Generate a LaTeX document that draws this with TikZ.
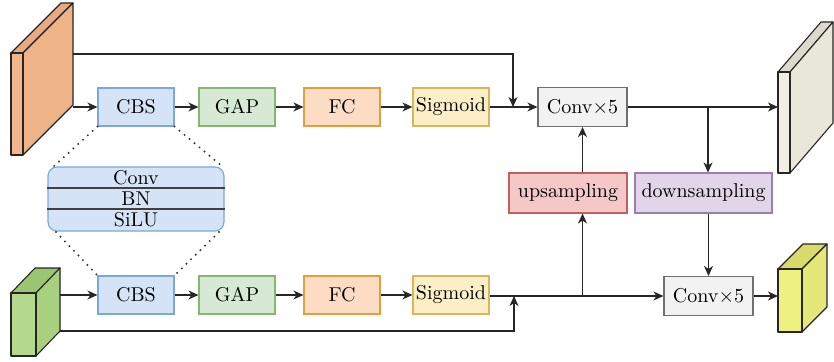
\documentclass[tikz,border=0pt]{standalone}
\usepackage{graphicx}
\usetikzlibrary{arrows.meta}
\newcommand{\lbl}[1]{\scalebox{2.0}{\fontsize{10}{12}\selectfont #1}}
\definecolor{cbsfill}{HTML}{D4E3F5}\definecolor{cbsdraw}{HTML}{7BA7DB}
\definecolor{gapfill}{HTML}{D6E9D4}\definecolor{gapdraw}{HTML}{86B76C}
\definecolor{fcfill}{HTML}{FCDCC4}\definecolor{fcdraw}{HTML}{E0A13A}
\definecolor{sigfill}{HTML}{FCEFC8}\definecolor{sigdraw}{HTML}{D9B65A}
\definecolor{convfill}{HTML}{F2F2F2}\definecolor{convdraw}{HTML}{707070}
\definecolor{upfill}{HTML}{F5C8C8}\definecolor{updraw}{HTML}{C0605C}
\definecolor{downfill}{HTML}{E2D5EA}\definecolor{downdraw}{HTML}{9D7DB3}
\definecolor{orfront}{HTML}{F2B58C}\definecolor{ortop}{HTML}{EAA97E}\definecolor{orside}{HTML}{EFB388}
\definecolor{grfront}{HTML}{B4D88C}\definecolor{grtop}{HTML}{9BC571}\definecolor{grside}{HTML}{A9D07F}
\definecolor{yefront}{HTML}{EEF07F}\definecolor{yetop}{HTML}{D8DB6B}\definecolor{yeside}{HTML}{E5E879}
\definecolor{whfront}{HTML}{F1EEE3}\definecolor{whtop}{HTML}{DCD9CD}\definecolor{whside}{HTML}{E9E6DA}
\begin{document}
\begin{tikzpicture}[x=1pt,y=-1pt,
  blk/.style={draw, line width=1.1pt, inner sep=0pt, minimum width=76pt, minimum height=38pt},
  cbsbox/.style={blk, fill=cbsfill, draw=cbsdraw},
  gapbox/.style={blk, fill=gapfill, draw=gapdraw},
  fcbox/.style={blk, fill=fcfill, draw=fcdraw},
  sigbox/.style={blk, fill=sigfill, draw=sigdraw},
  convbox/.style={blk, fill=convfill, draw=convdraw, minimum width=89pt, minimum height=39pt},
  upbox/.style={blk, fill=upfill, draw=updraw, minimum width=118pt, minimum height=40pt},
  downbox/.style={blk, fill=downfill, draw=downdraw, minimum width=137pt, minimum height=40pt},
  face/.style={draw=black!85, line width=1.1pt, line join=round},
  conn/.style={line width=1.2pt, draw=black!85},
  arr/.style={conn, -{Stealth[length=10pt,width=9pt,inset=3pt]}},
  dots/.style={line width=2.2pt, line cap=round, dash pattern=on 0pt off 6.5pt, draw=black!80}
]
\useasboundingbox (0,0) rectangle (834,361);

% orange slab
\fill[orfront] (11,53) -- (23,53) -- (23,155) -- (11,155) -- cycle;
\draw[face, fill=ortop] (11,53) -- (61,3) -- (73,3) -- (23,53) -- cycle;
\draw[face, fill=orside] (23,53) -- (73,3) -- (73,105) -- (23,155) -- cycle;
\draw[face] (11,53) rectangle (23,155);
\coordinate (orA) at (73,107);
\coordinate (orB) at (73,54);

% green cube
\fill[grfront] (11,293) rectangle (36,356);
\draw[face, fill=grtop] (11,293) -- (35,268) -- (60,268) -- (36,293) -- cycle;
\draw[face, fill=grside] (36,293) -- (60,268) -- (60,331) -- (36,356) -- cycle;
\draw[face] (11,293) rectangle (36,356);
\coordinate (grA) at (60,295);
\coordinate (grB) at (60,331);

% white slab
\fill[whfront] (778,72) rectangle (790,173);
\draw[face, fill=whtop] (778,72) -- (821,22) -- (833,22) -- (790,72) -- cycle;
\draw[face, fill=whside] (790,72) -- (833,22) -- (833,123) -- (790,173) -- cycle;
\draw[face] (778,72) rectangle (790,173);
\coordinate (whin) at (778,107);

% yellow cube
\fill[yefront] (778,269) rectangle (802,332);
\draw[face, fill=yetop] (778,269) -- (803,244) -- (827,244) -- (802,269) -- cycle;
\draw[face, fill=yeside] (802,269) -- (827,244) -- (827,307) -- (802,332) -- cycle;
\draw[face] (778,269) rectangle (802,332);
\coordinate (yein) at (778,296);

% row 1
\node[cbsbox] (cbs1) at (136,107) {\lbl{CBS}};
\node[gapbox] (gap1) at (237,107) {\lbl{GAP}};
\node[fcbox] (fc1) at (342,107) {\lbl{FC}};
\node[sigbox] (sig1) at (451,107) {\lbl{Sigmoid}};
\node[convbox] (conv1) at (582.5,107) {\lbl{Conv$\times$5}};

% row 2
\node[cbsbox] (cbs2) at (136,295) {\lbl{CBS}};
\node[gapbox] (gap2) at (237,295) {\lbl{GAP}};
\node[fcbox] (fc2) at (342,295) {\lbl{FC}};
\node[sigbox] (sig2) at (451,295) {\lbl{Sigmoid}};
\node[convbox] (conv2) at (708.5,296) {\lbl{Conv$\times$5}};

% middle
\node[upbox] (up) at (568,193) {\lbl{upsampling}};
\node[downbox] (down) at (703.5,193) {\lbl{downsampling}};

% expanded CBS
\node[draw=cbsdraw, fill=cbsfill, line width=1.1pt, rounded corners=9pt, minimum width=176pt, minimum height=64pt, inner sep=0pt] (cbsx) at (136,199) {};
\draw[line width=1.4pt, draw=black!75] (cbsx.west |- 0,188) -- (cbsx.east |- 0,188);
\draw[line width=1.4pt, draw=black!75] (cbsx.west |- 0,209) -- (cbsx.east |- 0,209);
\node[inner sep=0pt] (lconv) at (136,178) {\lbl{Conv}};
\node[inner sep=0pt] (lbn) at (136,198.5) {\lbl{BN}};
\node[inner sep=0pt] (lsilu) at (136,219.5) {\lbl{SiLU}};

% dotted
\coordinate (xtl) at (53,167);
\coordinate (xtr) at (223,167);
\coordinate (xbl) at (56,232);
\coordinate (xbr) at (219,232);
\draw[dots] (cbs1.south west) -- (xtl);
\draw[dots] (cbs1.south east) -- (xtr);
\draw[dots] (xbl) -- (cbs2.north west);
\draw[dots] (xbr) -- (cbs2.north east);

% connectors row 1
\draw[arr] (orA) -- (cbs1);
\draw[arr] (cbs1) -- (gap1);
\draw[arr] (gap1) -- (fc1);
\draw[arr] (fc1) -- (sig1);
\draw[arr] (sig1) -- (conv1);
\coordinate (j1) at (513,107);
\draw[arr] (orB) -- (orB -| j1) -- (j1);
\draw[arr] (conv1) -- (whin);
\coordinate (j2) at (708,107);
\draw[arr] (j2) -- (j2 |- down.north);
\draw[arr] (conv1.south |- up.north) -- (conv1.south);

% connectors row 2
\draw[arr] (grA) -- (cbs2);
\draw[arr] (cbs2) -- (gap2);
\draw[arr] (gap2) -- (fc2);
\draw[arr] (fc2) -- (sig2);
\draw[arr] (sig2.east |- conv2) -- (conv2);
\coordinate (j3) at (514,296);
\draw[arr] (grB) -- (grB -| j3) -- (j3);
\coordinate (j4) at (conv1.south |- conv2);
\draw[arr] (j4) -- (j4 |- up.south);
\draw[arr] (conv2.north |- down.south) -- (conv2.north);
\draw[arr] (conv2) -- (yein);
\end{tikzpicture}
\end{document}
